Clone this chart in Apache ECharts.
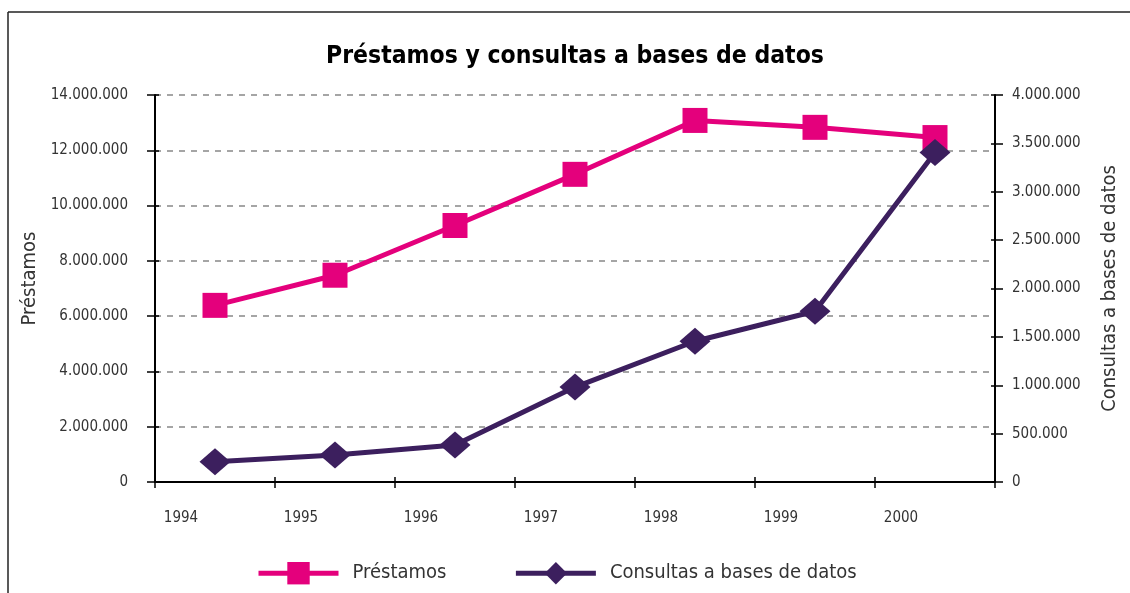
<!DOCTYPE html>
<html>
<head>
<meta charset="utf-8">
<script src="https://cdn.jsdelivr.net/npm/echarts@6/dist/echarts.min.js"></script>
<style>
  html, body { margin: 0; padding: 0; background: #fff; }
  #chart { width: 1130px; height: 593px; }
</style>
</head>
<body>
<div id="chart"></div>
<script>
const years = ['1994', '1995', '1996', '1997', '1998', '1999', '2000']
const prestamos = [6390000, 7480000, 9280000, 11130000, 13080000, 12830000, 12460000]
const consultas = [210000, 279000, 382000, 981000, 1455000, 1765000, 3406000]

const FONT = '"DejaVu Sans Condensed", "Liberation Sans Narrow", sans-serif'
const PINK = '#e4007c'
const PURPLE = '#3c1f5e'

function dots(v) {
  return String(v).replace(/\B(?=(\d{3})+(?!\d))/g, '.')
}

const chart = echarts.init(document.getElementById('chart'))

const labelStyle = { color: '#333', fontFamily: FONT, fontSize: 15 }
const axisLine = { show: true, lineStyle: { color: '#000', width: 2 } }

chart.setOption({
  animation: false,
  title: {
    text: 'Préstamos y consultas a bases de datos',
    left: 570,
    textAlign: 'center',
    top: 39,
    textStyle: { fontFamily: FONT, fontSize: 24.5, fontWeight: 'bold', color: '#000' }
  },
  grid: { left: 155, right: 135, top: 95, bottom: 111, outerBoundsMode: 'none' },
  legend: {
    left: 256,
    top: 562,
    padding: 0,
    itemWidth: 80,
    itemHeight: 28,
    itemGap: 67,
    lineStyle: { width: 5 },
    textStyle: { fontFamily: FONT, fontSize: 20, color: '#333', padding: [0, 0, 0, 9] },
    data: ['Préstamos', 'Consultas a bases de datos']
  },
  xAxis: [
    {
      type: 'category',
      data: years,
      boundaryGap: true,
      axisLine: axisLine,
      axisTick: { show: true, length: 6, lineStyle: { color: '#000', width: 1.5 } },
      axisLabel: Object.assign({ margin: 29, padding: [0, 68, 0, 0] }, labelStyle)
    },
    {
      type: 'category',
      data: years,
      position: 'bottom',
      boundaryGap: true,
      axisLine: { show: false },
      axisTick: { show: true, inside: true, length: 5, lineStyle: { color: '#000', width: 1.5 } },
      axisLabel: { show: false }
    }
  ],
  yAxis: [
    {
      type: 'value',
      min: 0,
      max: 14000000,
      interval: 2000000,
      name: 'Préstamos',
      nameLocation: 'middle',
      nameGap: 98,
      nameTextStyle: { fontFamily: FONT, fontSize: 20, color: '#333', padding: [0, 0, 0, 20] },
      axisLine: axisLine,
      axisTick: { show: true, length: 8, lineStyle: { color: '#000', width: 1.5 } },
      axisLabel: Object.assign({ margin: 27, formatter: dots }, labelStyle),
      splitLine: { show: true, lineStyle: { color: '#888', width: 1.5, type: [6, 6] } }
    },
    {
      type: 'value',
      min: 0,
      max: 4000000,
      interval: 500000,
      position: 'right',
      name: 'Consultas a bases de datos',
      nameLocation: 'middle',
      nameGap: 105,
      nameRotate: 90,
      nameTextStyle: { fontFamily: FONT, fontSize: 20, color: '#333' },
      axisLine: axisLine,
      axisTick: { show: true, length: 8, lineStyle: { color: '#000', width: 1.5 } },
      axisLabel: Object.assign({ margin: 17, formatter: dots }, labelStyle),
      splitLine: { show: false }
    },
    {
      type: 'value',
      min: 0,
      max: 14000000,
      interval: 2000000,
      position: 'left',
      axisLine: { show: false },
      axisTick: { show: true, inside: true, length: 4, lineStyle: { color: '#000', width: 1.5 } },
      axisLabel: { show: false },
      splitLine: { show: false }
    },
    {
      type: 'value',
      min: 0,
      max: 4000000,
      interval: 500000,
      position: 'right',
      axisLine: { show: false },
      axisTick: { show: true, inside: true, length: 4, lineStyle: { color: '#000', width: 1.5 } },
      axisLabel: { show: false },
      splitLine: { show: false }
    }
  ],
  series: [
    {
      name: 'Préstamos',
      type: 'line',
      data: prestamos,
      symbol: 'rect',
      symbolSize: 25,
      itemStyle: { color: PINK },
      lineStyle: { color: PINK, width: 5 }
    },
    {
      name: 'Consultas a bases de datos',
      type: 'line',
      yAxisIndex: 1,
      data: consultas,
      symbol: 'diamond',
      symbolSize: [31, 27],
      itemStyle: { color: PURPLE },
      lineStyle: { color: PURPLE, width: 5 }
    }
  ],
  graphic: [
    { type: 'line', shape: { x1: 8, y1: 12, x2: 1130, y2: 12 }, style: { stroke: '#222', lineWidth: 1.5 } },
    { type: 'line', shape: { x1: 8, y1: 12, x2: 8, y2: 593 }, style: { stroke: '#222', lineWidth: 1.5 } }
  ]
})
</script>
</body>
</html>
